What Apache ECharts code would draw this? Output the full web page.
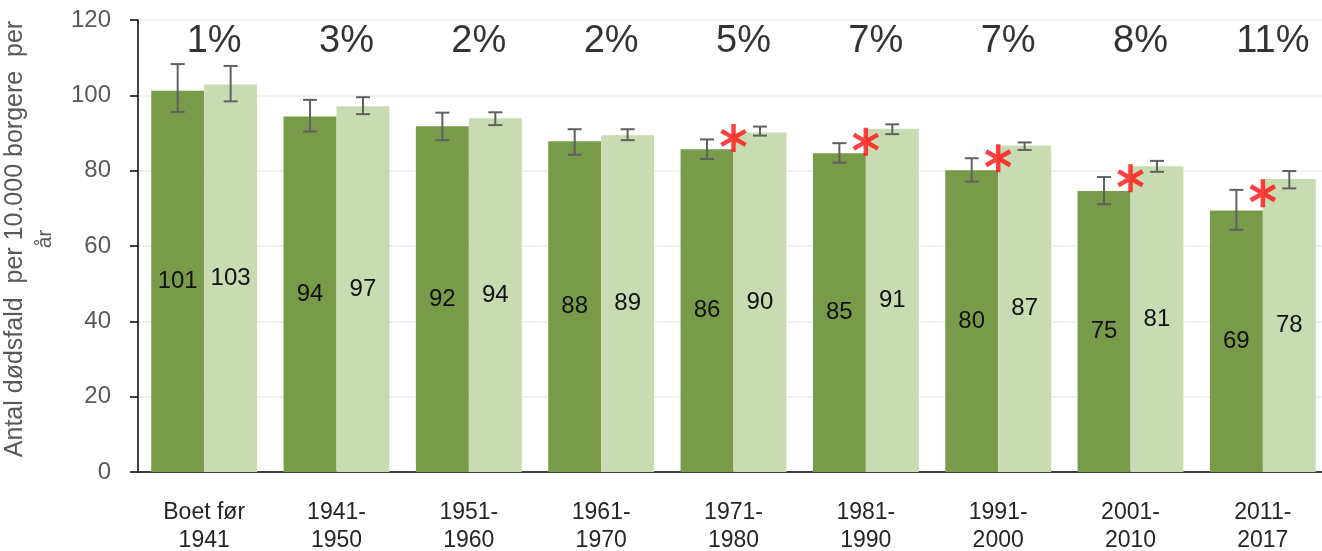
<!DOCTYPE html>
<html lang="da">
<head>
<meta charset="UTF-8">
<title>Dødsfald per 10.000 borgere</title>
<script src="https://cdn.jsdelivr.net/npm/echarts@6/dist/echarts.min.js"></script>
<style>
  html, body { margin: 0; padding: 0; background: #fff; }
  #main { width: 1322px; height: 551px; }
</style>
</head>
<body>
<div id="main"></div>
<script>
// kategorier (boligens byggeperiode)
var categories = ['Boet før\n1941', '1941-\n1950', '1951-\n1960', '1961-\n1970', '1971-\n1980',
                  '1981-\n1990', '1991-\n2000', '2001-\n2010', '2011-\n2017'];

// mørkegrøn serie
var darkVals = [101.2, 94.4, 91.8, 87.8, 85.7, 84.6, 80.1, 74.6, 69.4];
var darkLow  = [95.6, 90.4, 88.1, 84.2, 83.1, 82.1, 77.1, 71.1, 64.3];
var darkHigh = [108.3, 98.8, 95.4, 91.0, 88.3, 87.3, 83.3, 78.3, 74.9];

// lysegrøn serie
var lightVals = [102.9, 97.1, 93.9, 89.4, 90.1, 91.1, 86.7, 81.2, 77.8];
var lightLow  = [98.4, 95.0, 92.1, 88.1, 89.3, 89.7, 85.5, 79.7, 75.3];
var lightHigh = [107.8, 99.5, 95.5, 91.0, 91.7, 92.3, 87.5, 82.6, 79.9];

// procentforskel over hver gruppe
var pctLabels = ['1%', '3%', '2%', '2%', '5%', '7%', '7%', '8%', '11%'];
var pctLevel = 114.3;

// signifikans-stjerner (kun hvor markeret)
var starVals = [null, null, null, null, 88.7, 87.7, 83.3, 78.0, 74.0];

var chart = echarts.init(document.getElementById('main'));

var font = '"Liberation Sans", Arial, sans-serif';
var starPath = 'path://M42,0 L58,0 L58,100 L42,100 Z ' +
  'M89.3,18.1 L97.3,31.9 L10.7,81.9 L2.7,68.1 Z ' +
  'M10.7,18.1 L97.3,68.1 L89.3,81.9 L2.7,31.9 Z';

function errorSeries(low, high, side) {
  var data = low.map(function (v, i) { return [i, v, high[i]]; });
  return {
    type: 'custom',
    z: 5,
    silent: true,
    data: data,
    renderItem: function (params, api) {
      var band = api.size([1, 0])[0];
      var off = side * band * 0.2;
      var lo = api.coord([api.value(0), api.value(1)]);
      var hi = api.coord([api.value(0), api.value(2)]);
      var x = lo[0] + off;
      var cap = 7;
      var style = { stroke: '#606060', lineWidth: 2 };
      return {
        type: 'group',
        children: [
          { type: 'line', shape: { x1: x, y1: hi[1], x2: x, y2: lo[1] }, style: style },
          { type: 'line', shape: { x1: x - cap, y1: hi[1], x2: x + cap, y2: hi[1] }, style: style },
          { type: 'line', shape: { x1: x - cap, y1: lo[1], x2: x + cap, y2: lo[1] }, style: style }
        ]
      };
    }
  };
}

var barLabel = {
  show: true,
  position: 'inside',
  color: '#111',
  fontSize: 24,
  fontFamily: font,
  formatter: function (p) { return Math.round(p.value); }
};

chart.setOption({
  animation: false,
  grid: { left: 138, width: 1191, top: 20, bottom: 79, outerBoundsMode: 'none', containLabel: false },
  xAxis: {
    type: 'category',
    data: categories,
    axisLine: { lineStyle: { color: '#404040', width: 2 } },
    axisTick: { show: false },
    axisLabel: {
      color: '#262626',
      fontSize: 23,
      fontFamily: font,
      lineHeight: 28,
      margin: 27
    }
  },
  yAxis: {
    type: 'value',
    min: 0,
    max: 120,
    interval: 20,
    name: 'Antal dødsfald  per 10.000 borgere  per\n{s|år}',
    nameLocation: 'middle',
    nameGap: 68,
    nameTextStyle: {
      color: '#595959', fontSize: 25, fontFamily: font, lineHeight: 30,
      padding: [0, 0, 0, 14],
      rich: { s: { color: '#595959', fontSize: 21, fontFamily: font, lineHeight: 30 } }
    },
    axisLine: { show: true, lineStyle: { color: '#000', width: 1.5 } },
    axisTick: { show: true, length: 8, lineStyle: { color: '#000', width: 1.5 } },
    axisLabel: { color: '#595959', fontSize: 24, fontFamily: font, margin: 27 },
    splitLine: { lineStyle: { color: '#ececec', width: 1.5 } }
  },
  series: [
    {
      type: 'bar',
      data: darkVals,
      barGap: '0%',
      barCategoryGap: '20%',
      itemStyle: { color: '#789b4a' },
      label: barLabel
    },
    {
      type: 'bar',
      data: lightVals,
      itemStyle: { color: '#c9dbb2' },
      label: barLabel
    },
    errorSeries(darkLow, darkHigh, -1),
    errorSeries(lightLow, lightHigh, 1),
    {
      type: 'scatter',
      data: pctLabels.map(function (t) { return pctLevel; }),
      symbolSize: 1,
      itemStyle: { color: 'rgba(0,0,0,0)' },
      silent: true,
      label: {
        show: true,
        position: 'inside',
        offset: [10, 0],
        color: '#000',
        fontSize: 38,
        fontFamily: font,
        formatter: function (p) { return pctLabels[p.dataIndex]; }
      }
    },
    {
      type: 'scatter',
      data: starVals,
      symbol: starPath,
      symbolSize: 28,
      symbolKeepAspect: true,
      itemStyle: { color: '#ff1010' },
      z: 6,
      silent: true
    }
  ]
});
</script>
</body>
</html>
